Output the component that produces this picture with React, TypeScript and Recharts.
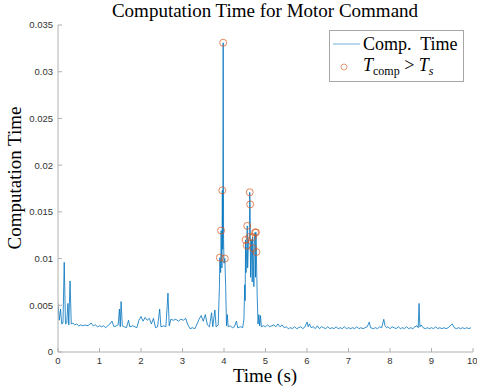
import React from "react";
import { ComposedChart, Line, Scatter, XAxis, YAxis, Legend } from "recharts";

// MATLAB-ish look: default blue line, orange hollow markers, light grey axes
const SERIF = '"Liberation Serif", "Times New Roman", serif';
const SANS = '"Liberation Sans", Arial, sans-serif';
const BLUE = "#0072BD";
const ORANGE = "#D95319";
const AXIS = "#b0b0b0";
const TICK_TEXT = "#333333";

const W = 477;
const H = 389;

// sample times (s) and computation time (s)
const timeS = [
  0.0, 0.03, 0.06, 0.09, 0.12, 0.15, 0.18, 0.21, 0.24, 0.26, 0.29, 0.32, 0.36, 0.4, 0.45,
  0.5, 0.55, 0.6, 0.65, 0.7, 0.75, 0.8, 0.85, 0.9, 0.95, 1.0, 1.05, 1.1, 1.15, 1.2,
  1.25, 1.3, 1.35, 1.4, 1.45, 1.48, 1.5, 1.52, 1.55, 1.6, 1.65, 1.7, 1.73, 1.8, 1.85,
  1.9, 1.95, 2.0, 2.05, 2.1, 2.15, 2.2, 2.25, 2.3, 2.35, 2.4, 2.45, 2.48, 2.55, 2.6,
  2.65, 2.68, 2.72, 2.78, 2.84, 2.9, 2.96, 3.02, 3.08, 3.12, 3.18, 3.24, 3.3, 3.35, 3.4,
  3.45, 3.5, 3.55, 3.6, 3.65, 3.7, 3.73, 3.78, 3.81, 3.86, 3.89, 3.9, 3.92, 3.93, 3.95,
  3.96, 3.97, 3.98, 3.99, 4.0, 4.02, 4.04, 4.06, 4.08, 4.1, 4.15, 4.2, 4.25, 4.3, 4.33,
  4.4, 4.45, 4.48, 4.5, 4.51, 4.52, 4.53, 4.55, 4.56, 4.57, 4.59, 4.61, 4.62, 4.63, 4.64,
  4.66, 4.68, 4.69, 4.7, 4.72, 4.73, 4.75, 4.76, 4.77, 4.78, 4.8, 4.82, 4.84, 4.86, 4.88,
  4.9, 4.95, 5.0, 5.05, 5.1, 5.15, 5.2, 5.25, 5.3, 5.35, 5.4, 5.45, 5.5, 5.55, 5.6,
  5.65, 5.7, 5.75, 5.8, 5.85, 5.9, 5.95, 6.0, 6.03, 6.06, 6.1, 6.15, 6.2, 6.25, 6.3,
  6.35, 6.4, 6.45, 6.5, 6.55, 6.6, 6.65, 6.7, 6.75, 6.8, 6.85, 6.9, 6.95, 7.0, 7.05,
  7.1, 7.15, 7.2, 7.25, 7.3, 7.35, 7.4, 7.45, 7.5, 7.53, 7.6, 7.65, 7.7, 7.75, 7.8,
  7.85, 7.88, 7.92, 7.95, 8.0, 8.05, 8.1, 8.15, 8.2, 8.25, 8.3, 8.35, 8.4, 8.45, 8.5,
  8.55, 8.6, 8.65, 8.68, 8.7, 8.72, 8.75, 8.8, 8.85, 8.9, 8.95, 9.0, 9.05, 9.1, 9.15,
  9.2, 9.25, 9.3, 9.35, 9.4, 9.45, 9.5, 9.55, 9.6, 9.65, 9.7, 9.75, 9.8, 9.85, 9.9,
  9.95,
];

const compTime = [
  0.0052, 0.0034, 0.0046, 0.003, 0.0031, 0.0096, 0.003, 0.0031, 0.0052, 0.0029, 0.0076, 0.003, 0.0031, 0.0029, 0.003,
  0.0028, 0.0029, 0.0028, 0.0029, 0.0028, 0.0029, 0.0031, 0.0028, 0.0029, 0.0027, 0.0028, 0.0027, 0.0028, 0.0026, 0.0028,
  0.003, 0.0033, 0.0027, 0.0028, 0.0029, 0.0046, 0.0027, 0.0054, 0.0028, 0.0027, 0.0026, 0.0034, 0.0027, 0.0028, 0.0027,
  0.0026, 0.0034, 0.0038, 0.0033, 0.0037, 0.0034, 0.0036, 0.003, 0.0036, 0.0026, 0.0027, 0.0046, 0.0027, 0.0028, 0.0027,
  0.0063, 0.0028, 0.0035, 0.0034, 0.0035, 0.0033, 0.0035, 0.0034, 0.0036, 0.003, 0.0025, 0.0026, 0.0025, 0.003, 0.0035,
  0.0039, 0.0033, 0.004, 0.0029, 0.0027, 0.0042, 0.0027, 0.0045, 0.0027, 0.0029, 0.007, 0.0101, 0.0085, 0.013, 0.009,
  0.0173, 0.011, 0.0331, 0.012, 0.0095, 0.01, 0.007, 0.0028, 0.004, 0.0027, 0.0028, 0.0026, 0.0027, 0.0033, 0.0026,
  0.0027, 0.0026, 0.0035, 0.0072, 0.0055, 0.012, 0.0085, 0.0114, 0.0135, 0.009, 0.0118, 0.0123, 0.0171, 0.0158, 0.008,
  0.012, 0.0075, 0.0123, 0.0111, 0.007, 0.012, 0.0128, 0.008, 0.0128, 0.0107, 0.006, 0.003, 0.004, 0.0028, 0.0039,
  0.0027, 0.0028, 0.0027, 0.0029, 0.0027, 0.0028, 0.0029, 0.0027, 0.003, 0.0027, 0.0029, 0.0026, 0.0027, 0.0025, 0.0026,
  0.0025, 0.0027, 0.0025, 0.0026, 0.0027, 0.0025, 0.0027, 0.0032, 0.0027, 0.003, 0.0026, 0.0027, 0.0025, 0.0028, 0.0025,
  0.0027, 0.0026, 0.0025, 0.0027, 0.0025, 0.0026, 0.0025, 0.0027, 0.0025, 0.0026, 0.0025, 0.0027, 0.0025, 0.0026, 0.0025,
  0.0026, 0.0025, 0.0027, 0.0025, 0.0026, 0.0025, 0.0026, 0.0027, 0.0032, 0.0026, 0.0025, 0.0026, 0.0025, 0.0027, 0.0026,
  0.0035, 0.0028, 0.0026, 0.0027, 0.0025, 0.0027, 0.0026, 0.0025, 0.0027, 0.0025, 0.0026, 0.0025, 0.0027, 0.0025, 0.0026,
  0.0025, 0.0027, 0.0028, 0.0026, 0.0052, 0.0027, 0.0029, 0.0026, 0.0025, 0.0026, 0.0025, 0.0026, 0.0025, 0.0027, 0.0025,
  0.0026, 0.0025, 0.0026, 0.0025, 0.0026, 0.0028, 0.003, 0.0026, 0.0025, 0.0026, 0.0025, 0.0026, 0.0025, 0.0026, 0.0025,
  0.0026,
];

// samples where T_comp > T_s
const overTimeS = [3.9, 3.93, 3.96, 3.98, 4.02, 4.52, 4.55, 4.56, 4.61, 4.62, 4.63, 4.69, 4.7, 4.75, 4.77, 4.78];
const overComp = [0.0101, 0.013, 0.0173, 0.0331, 0.01, 0.012, 0.0114, 0.0135, 0.0123, 0.0171, 0.0158, 0.0123, 0.0111, 0.0128, 0.0128, 0.0107];

const xTicks = [0, 1, 2, 3, 4, 5, 6, 7, 8, 9, 10];
const yTicks = [0, 0.005, 0.01, 0.015, 0.02, 0.025, 0.03, 0.035];
const yTickLabels = ["0", "0.005", "0.01", "0.015", "0.02", "0.025", "0.03", "0.035"];

const lineData = timeS.map((t, i) => ({ t, v: compTime[i] }));
const overData = overTimeS.map((t, i) => ({ t, v: overComp[i] }));

const Ring = (p: any) => (
  <circle cx={p.cx} cy={p.cy} r={3.5} fill="none" stroke={ORANGE} strokeWidth={0.7} />
);

const LegendBox = () => (
  <div
    style={{
      position: "relative",
      width: 135,
      height: 52,
      boxSizing: "border-box",
      border: "1px solid #a6a6a6",
      background: "#fff",
      fontFamily: SERIF,
      fontSize: 18,
      color: "#000",
    }}
  >
    <svg width={135} height={52} style={{ position: "absolute", left: -1, top: -1 }}>
      <line x1={4} x2={31} y1={14} y2={14} stroke={BLUE} strokeOpacity={0.55} strokeWidth={1} />
      <circle cx={15} cy={37} r={3} fill="none" stroke={ORANGE} strokeOpacity={0.7} strokeWidth={0.8} />
      <text x={34} y={20} fontFamily={SERIF} fontSize={18} fill="#000">
        Comp.&#160; Time
      </text>
      <text x={34} y={41} fontFamily={SERIF} fontSize={18} fill="#000">
        <tspan fontStyle="italic">T</tspan>
        <tspan fontSize={12} dy={4}>comp</tspan>
        <tspan dy={-4}> &gt; </tspan>
        <tspan fontStyle="italic">T</tspan>
        <tspan fontSize={12} dy={4} fontStyle="italic">s</tspan>
      </text>
    </svg>
  </div>
);

export default function App() {
  return (
    <div style={{ position: "absolute", left: 0, top: 0, width: W, height: H, background: "#fff" }}>
      <ComposedChart width={W} height={H} margin={{ top: 25, right: 4, bottom: 0, left: 0 }}>
        <XAxis
          dataKey="t"
          type="number"
          domain={[0, 10]}
          ticks={xTicks}
          height={37}
          stroke={AXIS}
          tickSize={-4}
          tickMargin={9}
          tick={{ fill: TICK_TEXT, fontSize: 9.5, fontFamily: SANS }}
          allowDataOverflow
        />
        <YAxis
          dataKey="v"
          type="number"
          domain={[0, 0.035]}
          ticks={yTicks}
          width={58}
          stroke={AXIS}
          tickSize={-4}
          tickMargin={9}
          tickFormatter={(v: number) => yTickLabels[yTicks.indexOf(v)] ?? String(v)}
          tick={{ fill: TICK_TEXT, fontSize: 9.5, fontFamily: SANS }}
          allowDataOverflow
        />
        <Legend
          layout="horizontal"
          verticalAlign="middle"
          align="center"
          wrapperStyle={{ left: 329, top: 30, width: 135, height: 52 }}
          content={() => <LegendBox />}
        />
        <Line
          data={lineData}
          dataKey="v"
          type="linear"
          stroke={BLUE}
          strokeWidth={0.8}
          dot={false}
          activeDot={false}
          isAnimationActive={false}
        />
        <Scatter data={overData} dataKey="v" shape={Ring} isAnimationActive={false} />
      </ComposedChart>
      <svg
        width={W}
        height={H}
        style={{ position: "absolute", left: 0, top: 0, pointerEvents: "none" }}
      >
        <text x={265} y={17} textAnchor="middle" fontFamily={SERIF} fontSize={19} fill="#000">
          Computation Time for Motor Command
        </text>
        <text x={265} y={382} textAnchor="middle" fontFamily={SERIF} fontSize={19} fill="#000">
          Time (s)
        </text>
        <text
          x={0}
          y={0}
          transform="translate(21,178) rotate(-90)"
          textAnchor="middle"
          fontFamily={SERIF}
          fontSize={19}
          fill="#000"
        >
          Computation Time
        </text>
      </svg>
    </div>
  );
}
